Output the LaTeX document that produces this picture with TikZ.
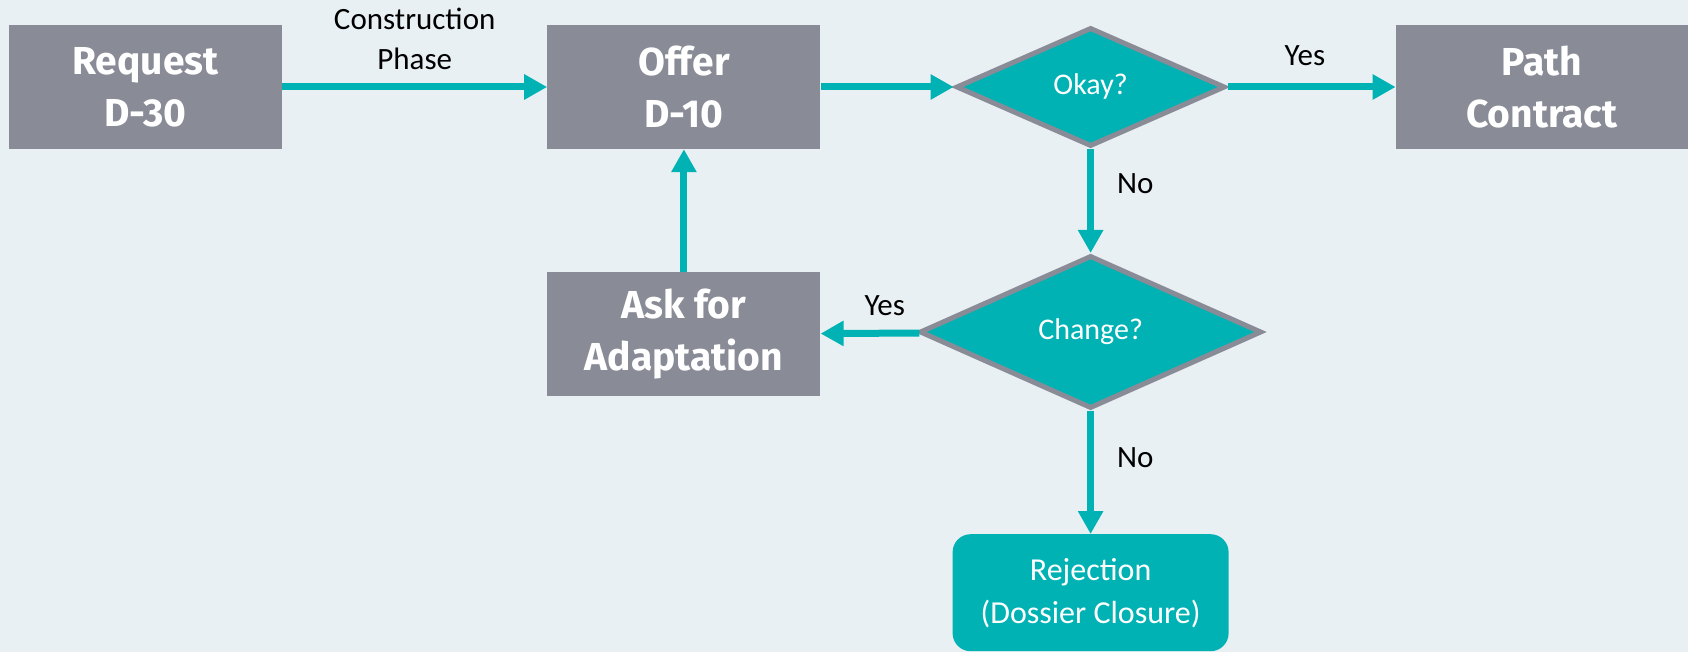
\documentclass[tikz,border=0pt]{standalone}
\usepackage{fontspec}
\setmainfont{Carlito}
\newfontfamily\boxfont{Fira Sans}
\usetikzlibrary{shapes,arrows.meta,positioning}
\definecolor{bgblue}{RGB}{233,240,243}
\definecolor{boxgray}{RGB}{137,140,150}
\definecolor{flowteal}{RGB}{0,178,180}

\begin{document}
\begin{tikzpicture}[x=1pt,y=-1pt,>={Triangle[length=23pt,width=24pt]}]
\tikzstyle{box}=[fill=boxgray,text=white,align=center,inner sep=0pt,minimum width=273pt,minimum height=124pt,font=\boxfont\bfseries\fontsize{39}{52}\selectfont]
\tikzstyle{check}=[diamond,fill=flowteal,draw=boxgray,line width=5pt,text=white,inner sep=0pt,font=\fontsize{30}{36}\selectfont]
\tikzstyle{stop}=[rounded corners=18pt,fill=flowteal,text=white,align=center,inner sep=0pt,minimum width=276pt,minimum height=117pt,font=\fontsize{32}{43}\selectfont]
\tikzstyle{flow}=[->,draw=flowteal,line width=7pt]
\tikzstyle{lbl}=[text=black,align=center,inner sep=10pt,font=\fontsize{31}{40}\selectfont]
\useasboundingbox[fill=bgblue] (0,0) rectangle (1688,652);
\node[box] (request) at (145.5,87) {Request\\D-30};
\node[box][right=265pt of request] (offer) {Offer\\D-10};
\node[check,minimum width=269pt,minimum height=119pt][right=133pt of offer] (okay) {Okay?};
\node[box,minimum width=292pt][right=168pt of okay] (path) {Path\\Contract};
\node[check,minimum width=342pt,minimum height=153pt][below=104pt of okay] (change) {Change?};
\node[box][below=123pt of offer] (ask) {Ask for\\Adaptation};
\node[stop][below=123pt of change] (rejection) {Rejection\\(Dossier Closure)};
\path (request) edge[flow] node[lbl,above=4pt]{Construction\\Phase} (offer)
      (offer) edge[flow] (okay)
      (okay) edge[flow] node[lbl,above=8pt,pos=0.46]{Yes} (path)
             edge[flow] node[lbl,right=13pt,pos=0.33]{No} (change)
      (change) edge[flow] node[lbl,above=4pt,pos=0.35]{Yes} (ask)
               edge[flow] node[lbl,right=13pt,pos=0.38]{No} (rejection)
      (ask) edge[flow] (offer);
\end{tikzpicture}
\end{document}
